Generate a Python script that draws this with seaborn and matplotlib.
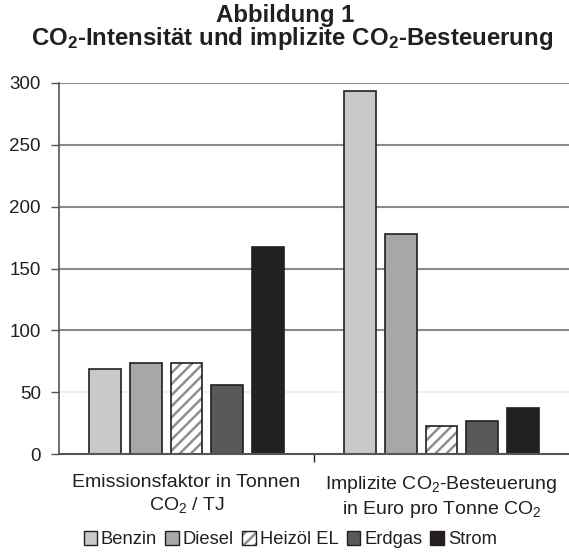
import matplotlib
matplotlib.use("Agg")
import matplotlib.pyplot as plt
import seaborn as sns
import pandas as pd
from matplotlib.patches import Patch, Rectangle
from matplotlib.legend_handler import HandlerTuple

sns.set_theme(style="white")
plt.rcParams['font.family'] = ['Liberation Sans', 'DejaVu Sans']
plt.rcParams['mathtext.fontset'] = 'custom'
plt.rcParams['mathtext.rm'] = 'Liberation Sans'
plt.rcParams['mathtext.it'] = 'Liberation Sans'
plt.rcParams['mathtext.bf'] = 'Liberation Sans:bold'
plt.rcParams['hatch.linewidth'] = 1.8

categories = ["Emissionsfaktor in Tonnen\nCO$_2$ / TJ",
              "Implizite CO$_2$-Besteuerung\nin Euro pro Tonne CO$_2$"]
fuels = ["Benzin", "Diesel", "Heizöl EL", "Erdgas", "Strom"]
emission = [69, 74, 74, 56, 167]
taxation = [293, 177.5, 23, 27, 37.5]
yticks = [0, 50, 100, 150, 200, 250, 300]

colors = ["#c8c9cb", "#a6a7a9", "#ffffff", "#58595b", "#231f20"]
edge = "#231f20"
hatch_col = "#8f8f8f"

rows = []
for f, v in zip(fuels, emission):
    rows.append((categories[0], f, v))
for f, v in zip(fuels, taxation):
    rows.append((categories[1], f, v))
df = pd.DataFrame(rows, columns=["cat", "fuel", "value"])

fig = plt.figure(figsize=(5.69, 5.52), dpi=100)
ax = fig.add_axes([0.1037, 0.177, 0.8963, 0.673])

# gridlines
for yv in yticks[1:]:
    c = "#efefef" if yv == 50 else "#8a8a8a"
    ax.axhline(yv, color=c, lw=1.5, zorder=0)

sns.barplot(data=df, x="cat", y="value", hue="fuel", hue_order=fuels,
            order=categories, palette=colors, width=0.8, gap=0.22,
            edgecolor=edge, linewidth=1.2, legend=False, ax=ax, zorder=3)

# hatch for Heizöl: grey hatch lines, dark outline on top
for p in list(ax.patches):
    fc = p.get_facecolor()
    if fc[0] > 0.99 and fc[1] > 0.99 and fc[2] > 0.99:
        p.set_hatch("///")
        p.set_edgecolor(hatch_col)
        p.set_linewidth(0)
        ax.add_patch(Rectangle(p.get_xy(), p.get_width(), p.get_height(),
                               fill=False, edgecolor=edge, linewidth=1.2, zorder=4))

ax.set_ylim(0, 300)
ax.set_xlim(-0.5, 1.5)
ax.set_yticks(yticks)
ax.set_yticklabels([str(t) for t in yticks], fontsize=13.5, color="#231f20")
ax.set_xticks([0, 1])
ax.set_xticklabels(categories, fontsize=14, color="#231f20", linespacing=1.3)
ax.tick_params(axis="x", length=0, pad=14)
ax.set_xticks([0.5], minor=True)
ax.tick_params(axis="x", which="minor", length=6, width=1, color="#231f20", direction="out", bottom=True)
ax.tick_params(axis="y", length=6, width=1, color="#555555", direction="out", left=True, pad=7)
ax.set_xlabel("")
ax.set_ylabel("")
for s in ["top", "right"]:
    ax.spines[s].set_visible(False)
ax.spines["left"].set_color("#555555")
ax.spines["left"].set_linewidth(1.2)
ax.spines["bottom"].set_color("#555555")
ax.spines["bottom"].set_linewidth(1.5)
ax.spines["bottom"].set_zorder(5)

fig.text(0.501, 0.972, "Abbildung 1", ha="center", va="center",
         fontsize=17.3, fontweight="bold", color="#231f20")
fig.text(0.514, 0.930, r"CO$_\mathbf{2}$-Intensität und implizite CO$_\mathbf{2}$-Besteuerung",
         ha="center", va="center", fontsize=17.3, fontweight="bold", color="#231f20")

handles = []
for f, c in zip(fuels, colors):
    if f == "Heizöl EL":
        h = (Patch(facecolor=c, edgecolor=hatch_col, linewidth=0, hatch="///"),
             Patch(fill=False, edgecolor=edge, linewidth=1.0))
    else:
        h = Patch(facecolor=c, edgecolor=edge, linewidth=1.0)
    handles.append(h)
fig.legend(handles=handles, labels=fuels, loc="center", bbox_to_anchor=(0.51, 0.022), ncol=5,
           frameon=False, fontsize=13.2, handlelength=0.75, handleheight=0.75,
           handletextpad=0.2, columnspacing=0.45, labelcolor="#231f20",
           handler_map={tuple: HandlerTuple(ndivide=1, pad=0)})

fig.savefig("out.png", dpi=100)
